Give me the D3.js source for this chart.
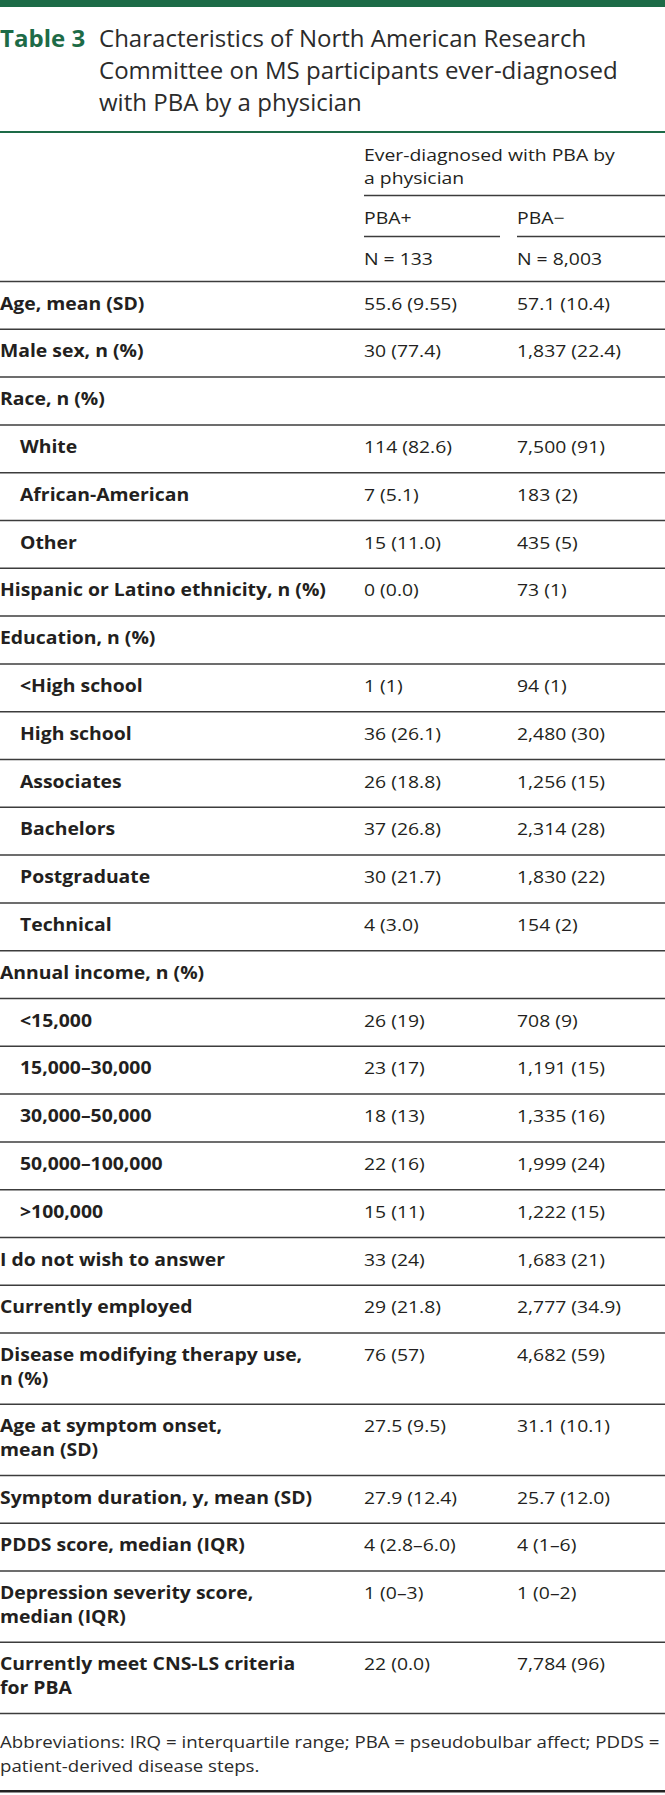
<!DOCTYPE html>
<html><head><meta charset="utf-8">
<script src="https://cdn.jsdelivr.net/npm/d3@7"></script>
<style>html,body{margin:0;padding:0;background:#fff;} svg{display:block;}</style>
</head><body>
<div id="chart"></div>
<script>
// ---- data ----
const titleLabel = "Table 3";
const titleLines = ["Characteristics of North American Research",
                    "Committee on MS participants ever-diagnosed",
                    "with PBA by a physician"];
const spanHeader = ["Ever-diagnosed with PBA by", "a physician"];
const groupNames = ["PBA+", "PBA\u2212"];
const groupNs = ["N = 133", "N = 8,003"];
const rowLabels = [
  ["Age, mean (SD)"], ["Male sex, n (%)"], ["Race, n (%)"], ["White"], ["African-American"], ["Other"],
  ["Hispanic or Latino ethnicity, n (%)"], ["Education, n (%)"], ["<High school"], ["High school"],
  ["Associates"], ["Bachelors"], ["Postgraduate"], ["Technical"], ["Annual income, n (%)"],
  ["<15,000"], ["15,000\u201330,000"], ["30,000\u201350,000"], ["50,000\u2013100,000"], [">100,000"],
  ["I do not wish to answer"], ["Currently employed"], ["Disease modifying therapy use,", "n (%)"],
  ["Age at symptom onset,", "mean (SD)"], ["Symptom duration, y, mean (SD)"], ["PDDS score, median (IQR)"],
  ["Depression severity score,", "median (IQR)"], ["Currently meet CNS-LS criteria", "for PBA"]
];
const rowLevel = [0,0,0,1,1,1,0,0,1,1,1,1,1,1,0,1,1,1,1,1,0,0,0,0,0,0,0,0];
const pbaPlus = ["55.6 (9.55)","30 (77.4)","","114 (82.6)","7 (5.1)","15 (11.0)","0 (0.0)","",
  "1 (1)","36 (26.1)","26 (18.8)","37 (26.8)","30 (21.7)","4 (3.0)","","26 (19)","23 (17)","18 (13)",
  "22 (16)","15 (11)","33 (24)","29 (21.8)","76 (57)","27.5 (9.5)","27.9 (12.4)","4 (2.8\u20136.0)",
  "1 (0\u20133)","22 (0.0)"];
const pbaMinus = ["57.1 (10.4)","1,837 (22.4)","","7,500 (91)","183 (2)","435 (5)","73 (1)","",
  "94 (1)","2,480 (30)","1,256 (15)","2,314 (28)","1,830 (22)","154 (2)","","708 (9)","1,191 (15)",
  "1,335 (16)","1,999 (24)","1,222 (15)","1,683 (21)","2,777 (34.9)","4,682 (59)","31.1 (10.1)",
  "25.7 (12.0)","4 (1\u20136)","1 (0\u20132)","7,784 (96)"];
const footnote = ["Abbreviations: IRQ = interquartile range; PBA = pseudobulbar affect; PDDS =",
                  "patient-derived disease steps."];

// ---- layout ----
const W = 665, H = 1795;
const green = "#1d6b47", ink = "#231f20", rule = "#3c3c3c";
const font = "'Open Sans', sans-serif";
const bodySize = 17, bodySX = 1.14;     // the source face is wider than Open Sans
const titleSize = 23, titleSX = 1.045;
const svg = d3.select("#chart").append("svg").attr("width", W).attr("height", H)
  .style("background", "#fff");

const colX = d3.scaleOrdinal().domain(["label","plus","minus"]).range([0, 364, 517]);
const colEnd = d3.scaleOrdinal().domain(["plus","minus"]).range([500, W]);
const place = (sel, fx, fy, sx) => sel.attr("transform", (d,i) => `translate(${fx(d,i)},${fy(d,i)}) scale(${sx},1)`);

// top bar
svg.append("rect").attr("x",0).attr("y",0).attr("width",W).attr("height",7).attr("fill",green);

// title
const tY = d3.scaleLinear().domain([0,1]).range([47, 79]);
place(svg.append("text").datum(titleLabel).attr("font-family",font).attr("font-size",titleSize)
  .attr("font-weight",700).attr("fill",green).text(d=>d), ()=>0, ()=>tY(0), titleSX);
place(svg.append("g").selectAll("text").data(titleLines).join("text")
  .attr("font-family",font).attr("font-size",titleSize).attr("fill","#2b2b2b").text(d=>d),
  ()=>99, (d,i)=>tY(i), titleSX);
svg.append("rect").attr("x",0).attr("y",131).attr("width",W).attr("height",2).attr("fill",green);

// header
const hdr = svg.append("g").attr("font-family",font).attr("font-size",bodySize).attr("fill",ink);
place(hdr.selectAll("text.sp").data(spanHeader).join("text").attr("class","sp").text(d=>d),
  ()=>colX("plus"), (d,i)=>161 + i*23.4, bodySX);
hdr.append("line").attr("x1",colX("plus")).attr("x2",W).attr("y1",195.5).attr("y2",195.5)
  .attr("stroke",rule).attr("stroke-width",1.5);
const cols = ["plus","minus"];
place(hdr.selectAll("text.gn").data(cols).join("text").attr("class","gn").text((d,i)=>groupNames[i]),
  d=>colX(d), ()=>223.5, bodySX);
hdr.selectAll("line.gl").data(cols).join("line").attr("class","gl")
  .attr("x1",d=>colX(d)).attr("x2",d=>colEnd(d)).attr("y1",236.5).attr("y2",236.5)
  .attr("stroke",rule).attr("stroke-width",1.5);
place(hdr.selectAll("text.nn").data(cols).join("text").attr("class","nn").text((d,i)=>groupNs[i]),
  d=>colX(d), ()=>264.5, bodySX);

// body rows
const rowTop0 = 281, h1 = 47.8, lineStep = 23.4;
const heights = rowLabels.map(l => h1 + (l.length-1)*lineStep);
const tops = [rowTop0, ...d3.cumsum(heights).map(c => rowTop0 + c)];
const rows = rowLabels.map((l,i)=>({label:l, level:rowLevel[i], plus:pbaPlus[i], minus:pbaMinus[i], top:tops[i], bottom:tops[i+1]}));

const body = svg.append("g").attr("font-family",font).attr("font-size",bodySize).attr("fill",ink);
body.append("line").attr("x1",0).attr("x2",W).attr("y1",rowTop0+0.5).attr("y2",rowTop0+0.5)
  .attr("stroke",rule).attr("stroke-width",1.5);
const rg = body.selectAll("g.row").data(rows).join("g").attr("class","row");
rg.each(function(r){
  const g = d3.select(this);
  place(g.selectAll("text.lab").data(r.label).join("text").attr("class","lab")
    .attr("font-weight",700).text(d=>d),
    ()=>colX("label") + r.level*20, (d,i)=>r.top + 28.5 + i*lineStep, bodySX);
  place(g.selectAll("text.val").data(cols).join("text").attr("class","val").text(d=>r[d]),
    d=>colX(d), ()=>r.top + 28.5, bodySX);
  g.append("line").attr("x1",0).attr("x2",W).attr("y1",r.bottom+0.5).attr("y2",r.bottom+0.5)
    .attr("stroke",rule).attr("stroke-width",1.5);
});

// footnote (horizontal scale fitted so the first line spans the table width)
const fbase = tops[tops.length-1];
const fn = svg.append("g").attr("font-family",font).attr("font-size",16).attr("fill","#2b2b2b");
const ft = fn.selectAll("text").data(footnote).join("text").text(d=>d);
const w0 = ft.node().getComputedTextLength();
const fSX = w0 > 0 ? 660 / w0 : 1.15;
place(ft, ()=>0, (d,i)=>fbase + 35 + i*24, fSX);
svg.append("rect").attr("x",0).attr("y",1790).attr("width",W).attr("height",2.5).attr("fill","#222");
</script>
</body></html>
